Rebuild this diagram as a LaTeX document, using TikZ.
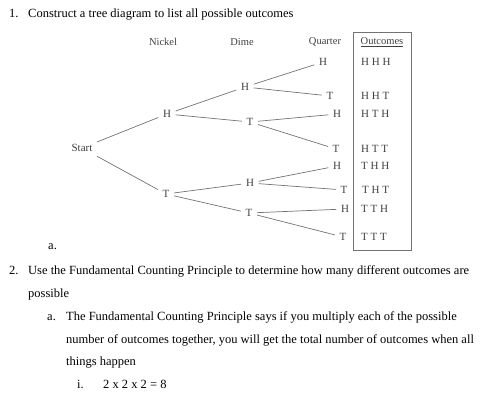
\documentclass[tikz,border=0pt]{standalone}
\usepackage{fontspec}
\setmainfont{Liberation Serif}
\usetikzlibrary{positioning}

\begin{document}
\begin{tikzpicture}[
  x=1pt, y=-1pt,
  txt/.style={anchor=base west, inner sep=0pt, font=\fontsize{12.5}{15}\selectfont},
  head/.style={text=black!75, inner sep=1pt, font=\fontsize{10.5}{12}\selectfont},
  coin/.style={text=black!75, inner sep=4.5pt, font=\fontsize{11}{13}\selectfont},
  res/.style={text=black!75, anchor=west, inner sep=1pt, font=\fontsize{11}{13}\selectfont},
  br/.style={draw=black!55, line width=0.7pt}
]
\useasboundingbox (0,0) rectangle (492,407);
\node[txt] (n1) at (9,17) {1.};
\node[txt] (q1text) at (28,17) {Construct a tree diagram to list all possible outcomes};
\node[head] (hnickel) at (163,42) {Nickel};
\node[head] (hdime) at (242,42) {Dime};
\node[head] (hquarter) at (325,42) {Quarter};
\node[head] (hout) at (382,42) {\underline{Outcomes}};
\node[draw=black!55, line width=0.8pt, minimum width=58, minimum height=218, inner sep=0pt] (outbox) at (382,141) {};
\node[coin] (start) at (82,148) {Start};
\node[coin] (nH) at (167,114) {H};
\node[coin] (nT) at (166,194) {T};
\node[coin] (dHH) at (245,87) {H};
\node[coin] (dHT) at (250,122) {T};
\node[coin] (dTH) at (250,183) {H};
\node[coin] (dTT) at (249,213) {T};
\node[coin] (qHHH) at (323,62) {H};
\node[coin] (qHHT) at (330,96) {T};
\node[coin] (qHTH) at (337,114) {H};
\node[coin] (qHTT) at (336,149) {T};
\node[coin] (qTHH) at (337,166) {H};
\node[coin] (qTHT) at (344,190) {T};
\node[coin] (qTTH) at (345,209) {H};
\node[coin] (qTTT) at (343,237) {T};
\node[res] (oHHH) at (360,62) {H H H};
\node[res] (oHHT) at (360,96) {H H T};
\node[res] (oHTH) at (360,114) {H T H};
\node[res] (oHTT) at (360,149) {H T T};
\node[res] (oTHH) at (360,166) {T H H};
\node[res] (oTHT) at (361,190) {T H T};
\node[res] (oTTH) at (360,209) {T T H};
\node[res] (oTTT) at (360,237) {T T T};
\draw[br] (start) -- (nH);
\draw[br] (start) -- (nT);
\draw[br] (nH) -- (dHH);
\draw[br] (nH) -- (dHT);
\draw[br] (nT) -- (dTH);
\draw[br] (nT) -- (dTT);
\draw[br] (dHH) -- (qHHH);
\draw[br] (dHH) -- (qHHT);
\draw[br] (dHT) -- (qHTH);
\draw[br] (dHT) -- (qHTT);
\draw[br] (dTH) -- (qTHH);
\draw[br] (dTH) -- (qTHT);
\draw[br] (dTT) -- (qTTH);
\draw[br] (dTT) -- (qTTT);
\node[txt] (suba) at (48,249) {a.};
\node[txt] (n2) at (9,274) {2.};
\node[txt] (q2text) at (28,274) {Use the Fundamental Counting Principle to determine how many different outcomes are};
\node[txt] (q2more) at (28,297) {possible};
\node[txt] (n2a) at (47,320) {a.};
\node[txt] (fcp1) at (66,320) {The Fundamental Counting Principle says if you multiply each of the possible};
\node[txt] (fcp2) at (66,343) {number of outcomes together, you will get the total number of outcomes when all};
\node[txt] (fcp3) at (66,365) {things happen};
\node[txt] (n2ai) at (77,388) {i.};
\node[txt] (calc) at (103,388) {2 x 2 x 2 = 8};
\end{tikzpicture}
\end{document}
